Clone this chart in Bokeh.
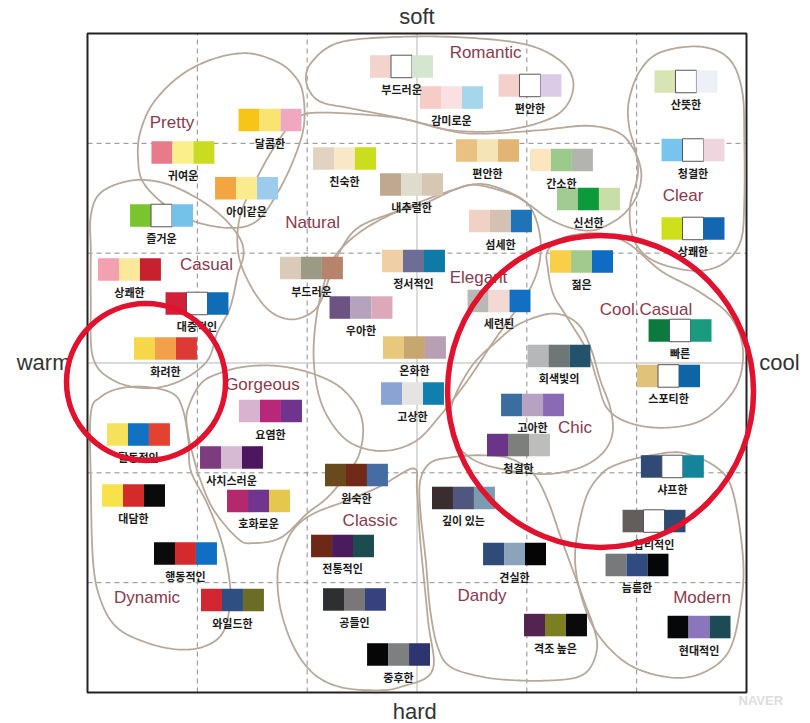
import numpy as np
from bokeh.plotting import figure
from bokeh.models import Range1d, ColumnDataSource
from bokeh.core.properties import value
from bokeh.embed import file_html
from bokeh.resources import INLINE

# ---------------- data (x: warm(-) .. cool(+), y: hard(-) .. soft(+)) ----------------
sw_labels = ["부드러운", "감미로운", "편안한", "산뜻한", "달콤한", "귀여운", "아이같은", "즐거운",
             "친숙한", "내추럴한", "편안한", "간소한", "신선한", "섬세한", "청결한", "상쾌한",
             "상쾌한", "대중적인", "화려한", "활동적인", "부드러운", "우아한", "정서적인", "온화한",
             "고상한", "요염한", "사치스러운", "세련된", "젊은", "빠른", "스포티한", "회색빛의",
             "고아한", "청결한", "샤프한", "합리적인", "늠름한", "현대적인", "깊이 있는", "견실한",
             "격조 높은", "대담한", "행동적인", "호화로운", "원숙한", "전통적인", "와일드한", "공들인",
             "중후한"]
sw_x = [-0.141, 0.314, 1.029, 2.449, -1.338, -2.131, -1.552, -2.326,
        -0.660, -0.050, 0.642, 1.315, 1.561, 0.760, 2.513, 2.513,
        -2.618, -2.003, -2.290, -2.536, -0.961, -0.510, -0.032, -0.023,
        -0.041, -1.334, -1.689, 0.747, 1.498, 2.395, 2.290, 1.293,
        1.052, 0.924, 2.325, 2.158, 2.003, 2.568, 0.423, 0.888,
        1.261, -2.581, -2.108, -1.443, -0.551, -0.678, -1.680, -0.569,
        -0.168]
sw_y = [2.700, 2.417, 2.527, 2.563, 2.212, 1.917, 1.590, 1.343,
        1.862, 1.625, 1.935, 1.848, 1.493, 1.293, 1.939, 1.225,
        0.851, 0.542, 0.132, -0.651, 0.865, 0.505, 0.929, 0.141,
        -0.278, -0.437, -0.860, 0.565, 0.924, 0.296, -0.118, 0.064,
        -0.382, -0.747, -0.942, -1.439, -1.839, -2.404, -1.229, -1.739,
        -2.386, -1.206, -1.735, -1.256, -1.020, -1.666, -2.158, -2.153,
        -2.654]
sw_c1 = ["#f2d4cc", "#f5cdc6", "#f4d0cb", "#d7e5b5", "#f5c518", "#e87b8a", "#f2a641", "#7ac52f",
         "#e2d2c2", "#c0a890", "#e9c180", "#fbe6bf", "#a2ca93", "#f1d1c6", "#78c4ee", "#cde01a",
         "#f3a0b1", "#d0203a", "#f6d74a", "#f5e25a", "#dacbb8", "#6c5382", "#f1cfa4", "#e8c87d",
         "#8aa3d3", "#d9b2d0", "#7c3c7d", "#b8b8b4", "#f8cf46", "#0c7a3e", "#e0c27a", "#b6b7b8",
         "#3c6da0", "#6a3588", "#2f4a75", "#635e5b", "#77797a", "#060709", "#3a2d30", "#2e4c77",
         "#52244f", "#f7e24a", "#0b0b0b", "#b4296e", "#6a4a1c", "#6d2818", "#d22633", "#2d2f30",
         "#060606"]
sw_c2 = ["#ffffff", "#fae0e0", "#ffffff", "#ffffff", "#fae36e", "#fbef8a", "#fbeb8f", "#ffffff",
         "#f8e8c8", "#e0dccb", "#f5e4b5", "#9bca8c", "#0c9a3a", "#d5c1b2", "#ffffff", "#ffffff",
         "#fbe89a", "#ffffff", "#f2a04a", "#1172c4", "#9b9a85", "#b5a2bd", "#6c6e95", "#c8a66f",
         "#e6e4e2", "#b7277a", "#d6b9d2", "#f4d8d4", "#a3ca8e", "#ffffff", "#ffffff", "#6e7676",
         "#b7a2c4", "#7c7f7c", "#ffffff", "#ffffff", "#2f4b82", "#8b76be", "#50577e", "#8ba4bb",
         "#7b7f22", "#d42a2a", "#d42a2e", "#72358f", "#702a17", "#4a1c5e", "#2f4e82", "#7b7778",
         "#7d7f80"]
sw_c3 = ["#d4e6cf", "#a6d6ec", "#dccbe6", "#eef0f8", "#f0a8c0", "#c9dc1f", "#9ccbec", "#74c1ea",
         "#cbde1e", "#d6c6b2", "#e3b575", "#b3b4b0", "#c8dea8", "#1f74b9", "#efd6de", "#1266b2",
         "#c8202e", "#0f6cb7", "#dd3a35", "#e2422f", "#b6846a", "#dba9ba", "#0f7aa6", "#b8a0b4",
         "#0e7fae", "#70348e", "#4c1660", "#136fc2", "#0e6cc4", "#1c9a7e", "#0d64a7", "#23536a",
         "#8a6ab4", "#bdbdbb", "#13849a", "#2d4b72", "#050608", "#1e4a55", "#7a9bb0", "#050505",
         "#0a0a0a", "#0a0a0a", "#0f6fc4", "#e5c74e", "#456da4", "#1c4b50", "#6b6d24", "#35427e",
         "#2c3570"]

cat_names = ["Romantic", "Pretty", "Natural", "Clear", "Casual", "Elegant", "Cool.Casual",
             "Gorgeous", "Chic", "Classic", "Dynamic", "Dandy", "Modern"]
cat_x = [0.624, -2.231, -0.951, 2.422, -1.917, 0.560, 2.085, -1.407, 1.439, -0.428, -2.458, 0.592, 2.595]
cat_y = [2.827, 2.190, 1.279, 1.525, 0.897, 0.778, 0.487, -0.196, -0.587, -1.434, -2.136, -2.117, -2.135]

axis_names = ["soft", "hard", "warm", "cool"]
axis_x = [0.0, -0.02, -3.40, 3.30]
axis_y = [3.155, -3.173, 0.0, 0.0]

grid_ticks = [-2, -1, 1, 2]
center_ticks = [0]

# blob outlines (control points)
blob_romantic_x = [-0.95, -0.70, -0.15, 0.49, 1.03, 1.35, 1.42, 1.26, 0.81, 0.31, -0.15, -0.61, -0.90, -1.01]
blob_romantic_y = [2.75, 2.92, 2.97, 2.96, 2.89, 2.71, 2.48, 2.25, 2.12, 2.12, 2.23, 2.32, 2.39, 2.57]
blob_pretty_x = [-2.54, -2.49, -2.27, -2.00, -1.67, -1.45, -1.27, -1.12, -1.03, -1.04, -1.12, -1.27, -1.54, -1.85, -2.15, -2.40, -2.52]
blob_pretty_y = [1.86, 1.64, 1.42, 1.28, 1.23, 1.30, 1.55, 1.86, 2.16, 2.46, 2.62, 2.74, 2.82, 2.77, 2.62, 2.37, 2.10]
blob_casual_x = [-2.97, -2.88, -2.61, -2.31, -2.00, -1.76, -1.61, -1.58, -1.63, -1.70, -1.82, -1.91, -2.15, -2.45, -2.76, -2.95, -2.97, -2.97]
blob_casual_y = [1.34, 1.55, 1.66, 1.64, 1.50, 1.32, 1.13, 0.98, 0.81, 0.51, 0.27, 0.02, -0.16, -0.23, -0.16, 0.05, 0.57, 1.02]
blob_dynamic_x = [-2.97, -2.88, -2.70, -2.45, -2.22, -2.13, -2.08, -2.06, -1.91, -1.79, -1.72, -1.70, -1.76, -1.91, -2.15, -2.45, -2.73, -2.88, -2.95, -2.97]
blob_dynamic_y = [-0.46, -0.31, -0.23, -0.22, -0.28, -0.43, -0.71, -0.98, -1.28, -1.59, -1.89, -2.16, -2.44, -2.57, -2.61, -2.55, -2.41, -2.16, -1.80, -1.07]
blob_gorgeous_x = [-2.09, -1.97, -1.79, -1.54, -1.24, -0.94, -0.70, -0.54, -0.49, -0.53, -0.63, -0.81, -1.00, -1.24, -1.49, -1.63, -1.85, -1.97, -2.04, -2.09]
blob_gorgeous_y = [-0.43, -0.19, -0.09, -0.03, -0.03, -0.10, -0.22, -0.41, -0.61, -0.84, -1.00, -1.22, -1.37, -1.59, -1.64, -1.60, -1.34, -1.07, -0.84, -0.61]
blob_natural_x = [-1.09, -0.85, -0.24, 0.06, 0.37, 0.67, 1.12, 1.55, 1.83, 1.97, 2.04, 2.02, 1.94, 1.81, 1.61, 1.40, 1.19, 1.01, 0.85, 0.55, 0.37, 0.06, -0.24, -0.54, -0.70, -0.79, -0.90, -1.06, -1.22, -1.38, -1.54, -1.63, -1.61, -1.47, -1.29]
blob_natural_y = [2.23, 2.28, 2.24, 2.18, 2.10, 2.09, 2.12, 2.16, 2.10, 1.95, 1.75, 1.57, 1.42, 1.30, 1.21, 1.23, 1.32, 1.45, 1.54, 1.62, 1.59, 1.45, 1.36, 1.23, 1.02, 0.80, 0.52, 0.41, 0.41, 0.51, 0.75, 1.02, 1.34, 1.66, 1.98]
blob_elegant_x = [-0.76, -0.61, -0.38, -0.06, 0.31, 0.58, 0.85, 1.03, 1.12, 1.11, 1.01, 0.85, 0.70, 0.46, 0.21, -0.01, -0.29, -0.56, -0.74, -0.88, -0.94, -0.92, -0.85]
blob_elegant_y = [0.95, 1.12, 1.28, 1.43, 1.57, 1.63, 1.55, 1.42, 1.16, 0.89, 0.64, 0.41, 0.20, -0.16, -0.48, -0.71, -0.80, -0.75, -0.60, -0.34, 0.02, 0.39, 0.71]
blob_clear_x = [1.93, 2.03, 2.22, 2.58, 2.84, 2.96, 2.98, 2.98, 2.95, 2.81, 2.58, 2.29, 2.08, 1.96, 1.94, 2.01, 1.99, 1.93]
blob_clear_y = [2.39, 2.66, 2.83, 2.88, 2.77, 2.48, 2.03, 1.48, 1.12, 0.92, 0.84, 0.88, 0.98, 1.16, 1.43, 1.71, 1.93, 2.16]
blob_coolcasual_x = [1.19, 1.33, 1.64, 1.92, 2.22, 2.55, 2.83, 2.96, 2.94, 2.79, 2.55, 2.22, 1.92, 1.73, 1.64, 1.55, 1.37, 1.24, 1.19]
blob_coolcasual_y = [1.02, 1.14, 1.18, 1.09, 0.84, 0.66, 0.45, 0.18, -0.13, -0.37, -0.54, -0.59, -0.54, -0.41, -0.16, 0.11, 0.41, 0.63, 0.87]
blob_chic_x = [0.31, 0.49, 0.73, 0.94, 1.24, 1.46, 1.58, 1.67, 1.76, 1.78, 1.69, 1.49, 1.19, 0.85, 0.53, 0.35]
blob_chic_y = [-0.41, -0.04, 0.20, 0.36, 0.45, 0.36, 0.14, -0.16, -0.41, -0.64, -0.82, -0.95, -1.01, -0.98, -0.89, -0.71]
blob_dandy_x = [0.12, 0.03, 0.03, 0.08, 0.12, 0.19, 0.31, 0.61, 0.92, 1.22, 1.46, 1.58, 1.64, 1.61, 1.53, 1.42, 1.31, 1.19, 1.06, 0.85, 0.58, 0.31]
blob_dandy_y = [-0.91, -1.07, -1.34, -1.80, -2.25, -2.59, -2.77, -2.86, -2.89, -2.89, -2.86, -2.77, -2.59, -2.41, -2.19, -1.89, -1.59, -1.25, -1.01, -0.87, -0.84, -0.86]
blob_modern_x = [1.83, 2.13, 2.43, 2.74, 2.88, 2.97, 2.94, 2.83, 2.58, 2.28, 1.92, 1.64, 1.49, 1.44, 1.53, 1.67]
blob_modern_y = [-0.92, -0.84, -0.82, -0.96, -1.19, -1.80, -2.25, -2.64, -2.83, -2.86, -2.74, -2.46, -2.10, -1.72, -1.25, -1.02]
blob_classic_x = [-0.03, -0.33, -0.63, -0.94, -1.12, -1.22, -1.27, -1.24, -1.12, -0.94, -0.70, -0.38, -0.15, 0.14, 0.10, 0.03, 0.00]
blob_classic_y = [-0.96, -1.12, -1.25, -1.37, -1.51, -1.71, -1.93, -2.25, -2.59, -2.83, -2.95, -2.98, -2.95, -2.80, -2.34, -1.62, -1.16]

blobs_x = [blob_romantic_x, blob_pretty_x, blob_casual_x, blob_dynamic_x, blob_gorgeous_x, blob_natural_x,
           blob_elegant_x, blob_clear_x, blob_coolcasual_x, blob_chic_x, blob_dandy_x, blob_modern_x, blob_classic_x]
blobs_y = [blob_romantic_y, blob_pretty_y, blob_casual_y, blob_dynamic_y, blob_gorgeous_y, blob_natural_y,
           blob_elegant_y, blob_clear_y, blob_coolcasual_y, blob_chic_y, blob_dandy_y, blob_modern_y, blob_classic_y]

# red highlight circles
ring_x = [-2.467, 1.671]
ring_y = [-0.173, -0.259]
ring_w = [1.448, 2.786]
ring_h = [1.430, 2.841]

# ---------------- helpers ----------------
def closed_spline(xs, ys, n=14):
    px = np.asarray(xs, float)
    py = np.asarray(ys, float)
    m = len(px)
    ox, oy = [], []
    for i in range(m):
        i0, i1, i2, i3 = (i - 1) % m, i, (i + 1) % m, (i + 2) % m
        for t in np.linspace(0, 1, n, endpoint=False):
            t2, t3 = t * t, t * t * t
            a0 = -0.5 * t3 + t2 - 0.5 * t
            a1 = 1.5 * t3 - 2.5 * t2 + 1.0
            a2 = -1.5 * t3 + 2.0 * t2 + 0.5 * t
            a3 = 0.5 * t3 - 0.5 * t2
            ox.append(a0 * px[i0] + a1 * px[i1] + a2 * px[i2] + a3 * px[i3])
            oy.append(a0 * py[i0] + a1 * py[i1] + a2 * py[i2] + a3 * py[i3])
    return ox, oy

# ---------------- figure ----------------
p = figure(width=810, height=723, x_range=Range1d(-3.7921, 3.5827), y_range=Range1d(-3.2823, 3.3005),
           output_backend="svg", toolbar_location=None, x_axis_location=None, y_axis_location=None,
           min_border=0, background_fill_color="white", border_fill_color="white")
p.outline_line_color = None
p.grid.visible = False

# grid lines
p.segment(x0=grid_ticks, x1=grid_ticks, y0=[-3] * 4, y1=[3] * 4, line_color="#8c8c8c",
          line_width=1, line_dash="5 4")
p.segment(x0=[-3] * 4, x1=[3] * 4, y0=grid_ticks, y1=grid_ticks, line_color="#8c8c8c",
          line_width=1, line_dash="5 4")
p.segment(x0=center_ticks, x1=center_ticks, y0=[-3], y1=[3], line_color="#b5b5b5", line_width=1)
p.segment(x0=[-3], x1=[3], y0=center_ticks, y1=center_ticks, line_color="#b5b5b5", line_width=1)

# frame box
p.quad(left=[-3], right=[3], bottom=[-3], top=[3], fill_color=None, line_color="#222222", line_width=2)

# blobs
sx, sy = [], []
for bx, by in zip(blobs_x, blobs_y):
    a, b = closed_spline(bx, by)
    sx.append(a)
    sy.append(b)
p.patches(xs=sx, ys=sy, fill_color=None, line_color="#b7a899", line_width=1.8)

# swatches
CW, CH = 0.191, 0.205
cx, cy, cc, ca = [], [], [], []
for x, y, c1, c2, c3 in zip(sw_x, sw_y, sw_c1, sw_c2, sw_c3):
    for k, c in zip((-1, 0, 1), (c1, c2, c3)):
        cx.append(x + k * CW)
        cy.append(y)
        cc.append(c)
        ca.append(0.9 if c.lower() == "#ffffff" else 0.0)
src = ColumnDataSource(dict(x=cx, y=cy, c=cc, a=ca))
p.rect(x="x", y="y", width=CW, height=CH, fill_color="c", line_color="#444444", line_alpha="a",
       line_width=1, source=src)

# swatch labels
p.text(x=sw_x, y=[v - 0.205 for v in sw_y], text=sw_labels, text_align="center", text_baseline="middle",
       text_font=value("Noto Sans CJK KR"), text_font_size="11px", text_font_style="bold",
       text_color="#1a1a1a")

# category labels
p.text(x=cat_x, y=cat_y, text=cat_names, text_align="center", text_baseline="middle",
       text_font=value("Liberation Sans"), text_font_size="17px", text_color="#8a3a4e")

# axis words
p.text(x=axis_x, y=axis_y, text=axis_names, text_align="center", text_baseline="middle",
       text_font=value("Liberation Sans"), text_font_size="22px", text_color="#333333")

# watermark
p.text(x=[3.13], y=[-3.07], text=["NAVER"], text_align="center", text_baseline="middle",
       text_font=value("Liberation Sans"), text_font_size="13px", text_font_style="bold",
       text_color="#dddddd")

# red rings
p.ellipse(x=ring_x, y=ring_y, width=ring_w, height=ring_h, fill_color=None,
          line_color="#e0122e", line_width=5.5)

open("out.html", "w").write(file_html(p, INLINE))
